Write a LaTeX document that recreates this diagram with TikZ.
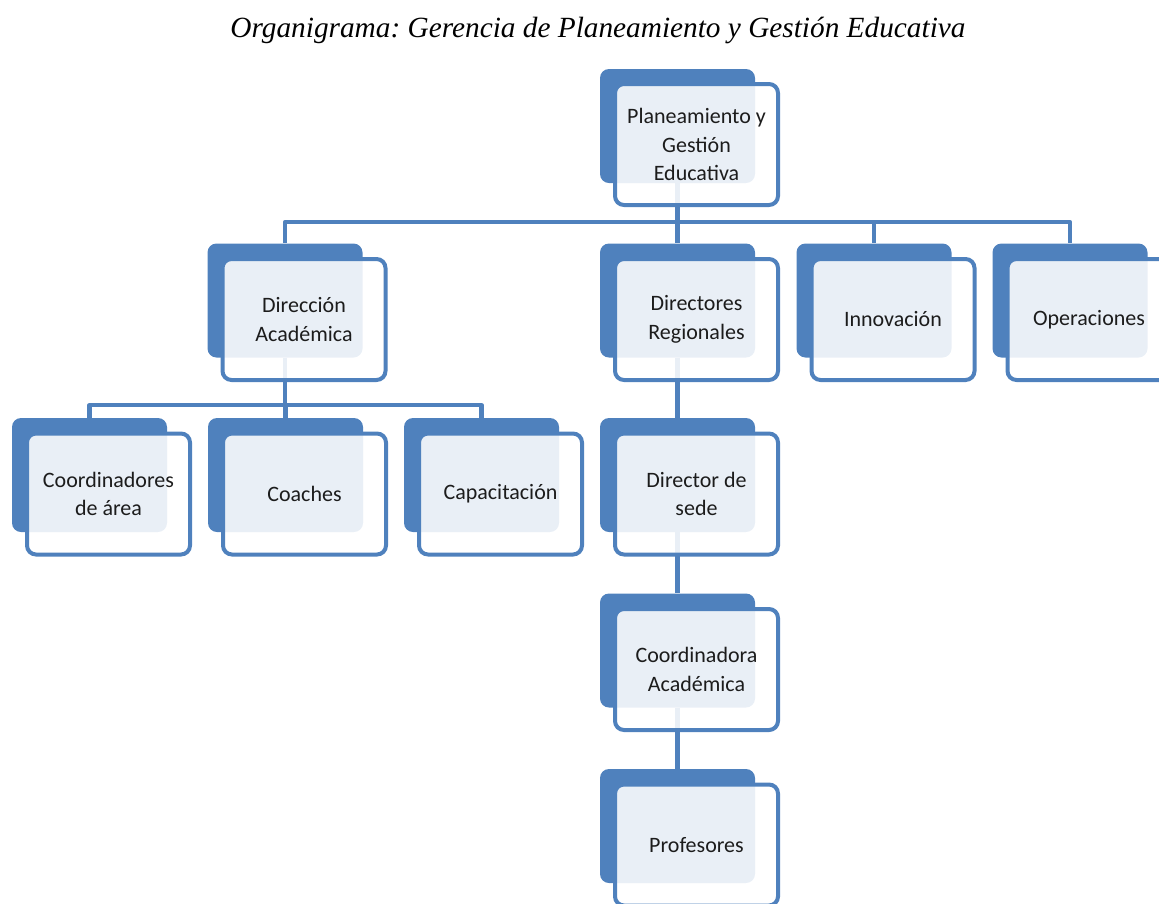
\documentclass[tikz,border=0pt]{standalone}
\usepackage{fontspec}
\usetikzlibrary{calc}
\setmainfont{Carlito}
\newfontfamily\titlefont{Liberation Serif}
\definecolor{orgblue}{HTML}{4F81BD}
\definecolor{orgtext}{HTML}{1C1C1C}
\tikzset{
	backbox/.style={rectangle, rounded corners=9pt, fill=orgblue, minimum width=155pt, minimum height=114pt, inner sep=0pt},
	frontbox/.style={rectangle, rounded corners=9pt, draw=orgblue, line width=4pt, fill=white, fill opacity=0.88, text opacity=1, text=orgtext, minimum width=163pt, minimum height=121pt, align=center, font=\fontsize{22}{28.5}\selectfont},
	link/.style={draw=orgblue, line width=4.5pt, line join=round}
}

\begin{document}
\begin{tikzpicture}[x=1pt,y=-1pt]
	\useasboundingbox (0,0) rectangle (1159,903);
	\node at (598,30) (title) {\titlefont\itshape\frenchspacing\fontsize{29.3}{34}\selectfont Organigrama: Gerencia de Planeamiento y Gesti\'on Educativa};

	% back boxes
	\node at (677.5,126) [backbox] (b1) {};
	\node at (285,300.5) [backbox] (b2) {};
	\node at (677.5,300.5) [backbox] (b3) {};
	\node at (874,300.5) [backbox] (b4) {};
	\node at (1070,300.5) [backbox] (b5) {};
	\node at (89.5,475) [backbox] (b6) {};
	\node at (285.5,475) [backbox] (b7) {};
	\node at (481.5,475) [backbox] (b8) {};
	\node at (677.5,475) [backbox] (b9) {};
	\node at (677.5,650.5) [backbox] (b10) {};
	\node at (677.5,826) [backbox] (b11) {};

	% links
	\draw [link] (b1.south) -- ++(0,39) -| (b2.north);
	\draw [link] (b1.south) -- ++(0,39) -| (b3.north);
	\draw [link] (b1.south) -- ++(0,39) -| (b4.north);
	\draw [link] (b1.south) -- ++(0,39) -| (b5.north);
	\draw [link] (b2.south) -- ++(0,47.5) -| (b6.north);
	\draw [link] (b2.south) -- ++(0,47.5) -| (b7.north);
	\draw [link] (b2.south) -- ++(0,47.5) -| (b8.north);
	\draw [link] (b3.south) -- (b9.north);
	\draw [link] (b9.south) -- (b10.north);
	\draw [link] (b10.south) -- (b11.north);

	% front boxes
	\node at ($(b1)+(19,18.5)$) [frontbox] (pge) {Planeamiento y\\Gesti\'on\\Educativa};
	\node at ($(b2)+(19,19)$) [frontbox] (dac) {Direcci\'on\\Acad\'emica};
	\node at ($(b3)+(19,19)$) [frontbox] (dreg) {Directores\\Regionales};
	\node at ($(b4)+(19,19)$) [frontbox] (inno) {Innovaci\'on};
	\node at ($(b5)+(19,19)$) [frontbox] (oper) {Operaciones};
	\node at ($(b6)+(19,19)$) [frontbox] (coord) {Coordinadores\\de \'area};
	\node at ($(b7)+(19,19)$) [frontbox] (coach) {Coaches};
	\node at ($(b8)+(19,19)$) [frontbox] (capa) {Capacitaci\'on};
	\node at ($(b9)+(19,19)$) [frontbox] (dsede) {Director de\\sede};
	\node at ($(b10)+(19,19)$) [frontbox] (cacad) {Coordinadora\\Acad\'emica};
	\node at ($(b11)+(19,19)$) [frontbox] (prof) {Profesores};
\end{tikzpicture}
\end{document}
